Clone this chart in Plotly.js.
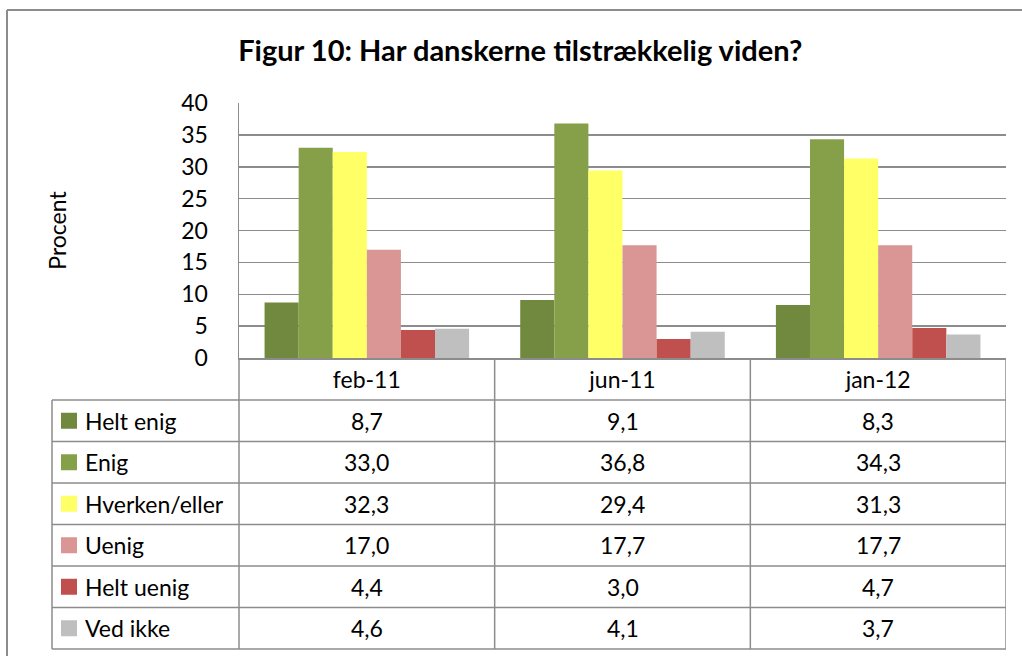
<!DOCTYPE html>
<html>
<head>
<meta charset="utf-8">
<script src="https://cdn.plot.ly/plotly-3.0.1.min.js"></script>
<style>html,body{margin:0;padding:0;background:#fff;}#chart{width:1022px;height:656px;}</style>
</head>
<body>
<div id="chart"></div>
<script>
// ---- data ----
var categories = ['feb-11', 'jun-11', 'jan-12'];
var seriesNames = ['Helt enig', 'Enig', 'Hverken/eller', 'Uenig', 'Helt uenig', 'Ved ikke'];
var heltEnig   = [8.7, 9.1, 8.3];
var enig       = [33.0, 36.8, 34.3];
var hverken    = [32.3, 29.4, 31.3];
var uenig      = [17.0, 17.7, 17.7];
var heltUenig  = [4.4, 3.0, 4.7];
var vedIkke    = [4.6, 4.1, 3.7];
var yTicks = [0, 5, 10, 15, 20, 25, 30, 35, 40];

var seriesValues = [heltEnig, enig, hverken, uenig, heltUenig, vedIkke];
var colors = ['#71893F', '#86A04A', '#FFFF66', '#D99694', '#C0504D', '#BFBFBF'];

var FONT = 'Lato, "Open Sans", sans-serif';
var FS = 23;
var W = 1022, Hh = 656;
var L = 239, R = 1006, T = 103, B = 358;
function px(x) { return (x - L) / (R - L); }
function py(y) { return (B - y) / (B - T); }
var lineCol = '#8C8C8C';

var traces = seriesNames.map(function (n, i) {
  return {
    type: 'bar', name: n, x: categories.map(function (c, j) { return j; }), y: seriesValues[i],
    marker: { color: colors[i], line: { width: 0 } }, hoverinfo: 'skip'
  };
});

var shapes = [];
var annotations = [];
// outer chart border (top + left)
shapes.push({ type: 'line', xref: 'paper', yref: 'paper', x0: px(7), x1: px(1022), y0: py(10), y1: py(10), line: { color: '#8C8C8C', width: 2 } });
shapes.push({ type: 'line', xref: 'paper', yref: 'paper', x0: px(7), x1: px(7), y0: py(10), y1: py(656), line: { color: '#8C8C8C', width: 2 } });

var rowTop = 400, rowH = 41.5;
var nRows = seriesNames.length;
var tableBottom = rowTop + rowH * nRows;
for (var r = 0; r <= nRows; r++) {
  var yy = rowTop + r * rowH;
  shapes.push({ type: 'line', xref: 'paper', yref: 'paper', x0: px(52), x1: px(1006), y0: py(yy), y1: py(yy), line: { color: lineCol, width: 1.5 } });
}
// vertical lines
shapes.push({ type: 'line', xref: 'paper', yref: 'paper', x0: px(52), x1: px(52), y0: py(rowTop), y1: py(tableBottom), line: { color: lineCol, width: 1.5 } });
shapes.push({ type: 'line', xref: 'paper', yref: 'paper', x0: 0, x1: 0, y0: py(B), y1: py(tableBottom), line: { color: lineCol, width: 1.5 } });
[0.5, 1.5, 2.5].forEach(function (xv) {
  shapes.push({ type: 'line', xref: 'x', yref: 'paper', x0: xv, x1: xv, y0: py(B), y1: py(tableBottom), line: { color: lineCol, width: 1.5 } });
});

// legend swatches + labels + values
seriesNames.forEach(function (n, i) {
  var cy = rowTop + rowH * (i + 0.5);
  shapes.push({ type: 'rect', xref: 'paper', yref: 'paper', x0: px(61), x1: px(77), y0: py(cy - 8), y1: py(cy + 8), fillcolor: colors[i], line: { width: 0 } });
  annotations.push({ xref: 'paper', yref: 'paper', x: px(83), y: py(cy), xanchor: 'left', yanchor: 'middle', showarrow: false, text: n, font: { family: FONT, size: FS, color: '#000' } });
  categories.forEach(function (c, j) {
    annotations.push({ xref: 'x', yref: 'paper', x: j, y: py(cy), xanchor: 'center', yanchor: 'middle', showarrow: false,
      text: seriesValues[i][j].toFixed(1).replace('.', ','), font: { family: FONT, size: FS, color: '#000' } });
  });
});

var layout = {
  width: W, height: Hh,
  paper_bgcolor: '#fff', plot_bgcolor: '#fff',
  margin: { l: L, r: W - R, t: T, b: Hh - B, pad: 0 },
  showlegend: false,
  barmode: 'group', bargap: 0.2, bargroupgap: 0,
  title: { text: '<b>Figur 10: Har danskerne tilstrækkelig viden?</b>', x: 0.509, xanchor: 'center', y: 1 - 51 / Hh, yanchor: 'middle',
    font: { family: FONT, size: 29, color: '#000' } },
  xaxis: {
    type: 'linear', range: [-0.5, 2.5], tickmode: 'array', tickvals: [0, 1, 2], ticktext: categories,
    showgrid: false, zeroline: false, showline: true, linecolor: lineCol, linewidth: 1.5,
    ticks: '', tickfont: { family: FONT, size: FS, color: '#000' }, ticklabelstandoff: 1
  },
  yaxis: {
    range: [0, 40], tickmode: 'array', tickvals: yTicks, ticktext: yTicks.map(String),
    showgrid: true, gridcolor: lineCol, gridwidth: 1.5, zeroline: false,
    showline: true, linecolor: lineCol, linewidth: 1.5, ticks: '',
    tickfont: { family: FONT, size: FS, color: '#000' }, ticklabelstandoff: 25,
    title: { text: 'Procent', font: { family: FONT, size: FS, color: '#000' }, standoff: 108 }
  },
  shapes: shapes,
  annotations: annotations
};

Plotly.newPlot('chart', traces, layout, { displayModeBar: false, staticPlot: true });
</script>
</body>
</html>
